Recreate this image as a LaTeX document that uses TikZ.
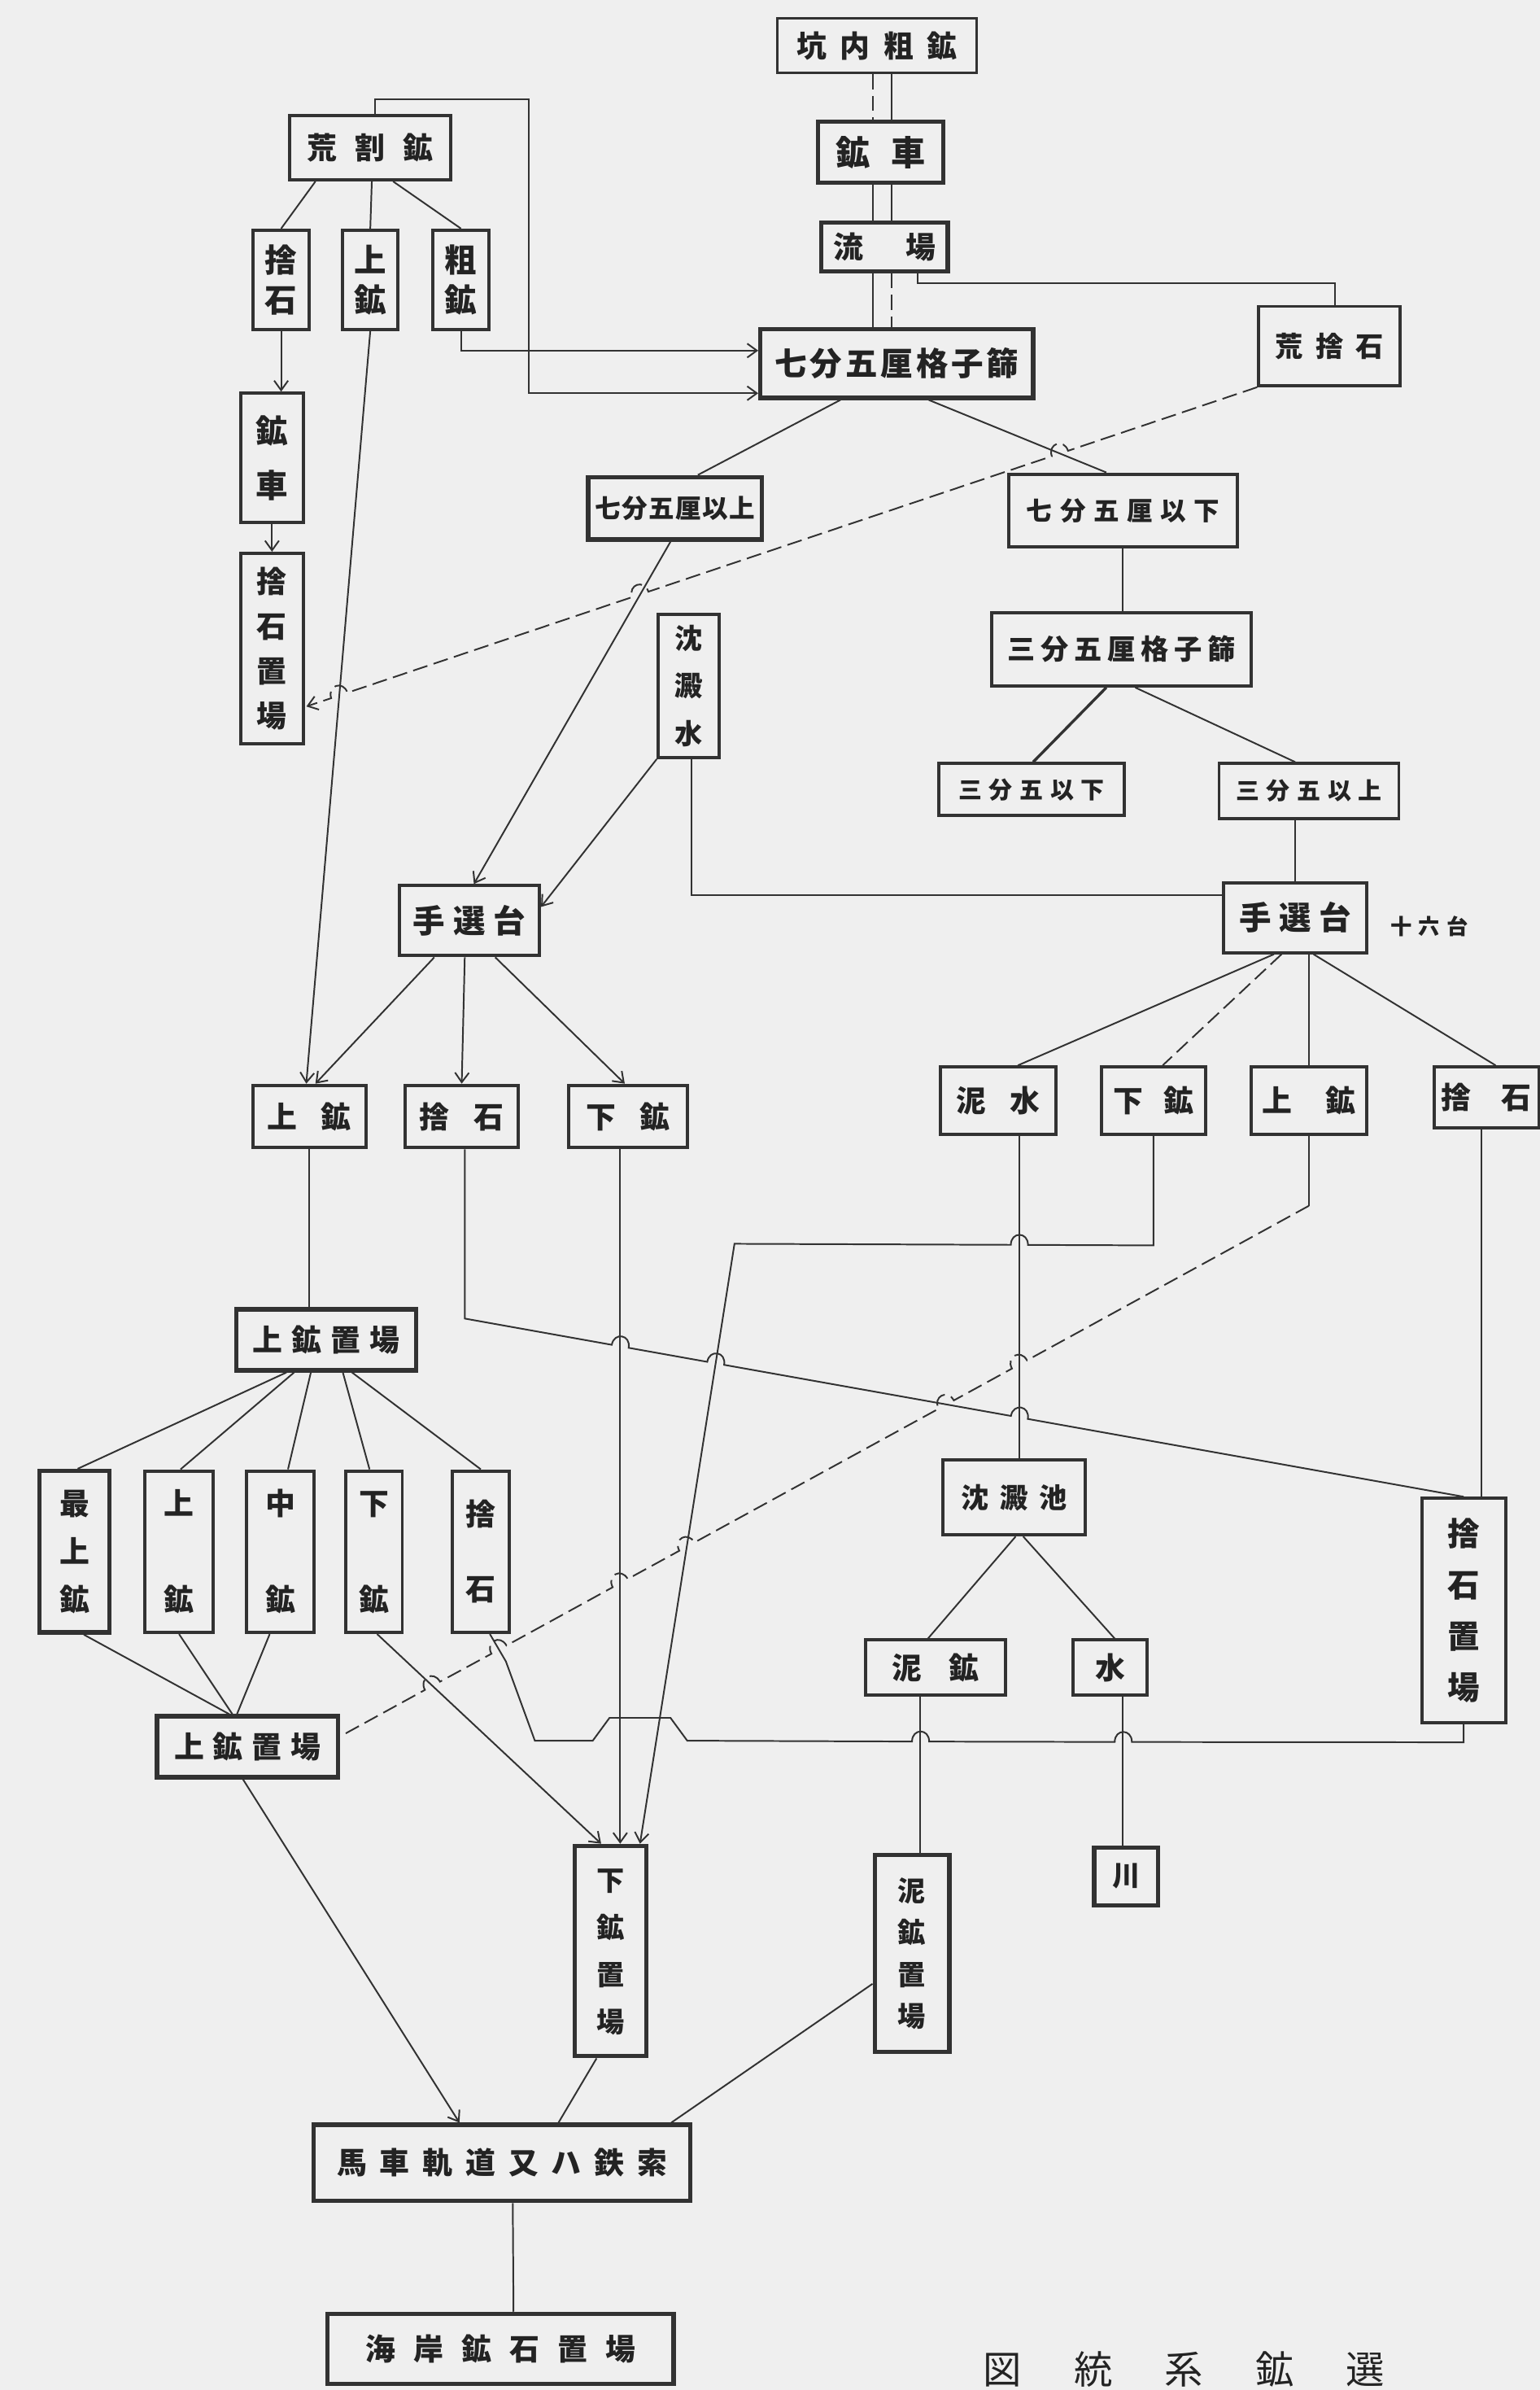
\documentclass[tikz,border=0pt]{standalone}
\usepackage{fontspec}
\setmainfont{Noto Sans CJK JP}
\usetikzlibrary{calc,arrows.meta}
\definecolor{bg}{RGB}{239,239,239}
\definecolor{lc}{RGB}{50,50,50}
\definecolor{tc}{RGB}{35,35,35}
\makeatletter
\newcommand\hsp[2]{{\def\hs@first{1}\@tfor\hs@c:=#2\do{\ifx\hs@first\@empty\hspace{#1}\fi\let\hs@first\@empty\hs@c}}}
\newcommand\vsp[2]{\vbox{\offinterlineskip\def\hs@first{1}\@tfor\hs@c:=#2\do{\ifx\hs@first\@empty\vskip#1\fi\let\hs@first\@empty\hbox to 1em{\hss\rule[-0.12em]{0pt}{1em}\hs@c\hss}}}}
\makeatother
\begin{document}
\begin{tikzpicture}[x=0.05cm,y=-0.05cm,
  box/.style={draw=lc,line width=3pt,inner sep=0pt,text=tc},
  tbox/.style={box,line width=4pt},
  wh/.style 2 args={minimum width=#1*0.05cm,minimum height=#2*0.05cm},
  f20/.style={font=\fontsize{20pt}{22pt}\selectfont\bfseries},
  f22/.style={font=\fontsize{22pt}{24pt}\selectfont\bfseries},
  f24/.style={font=\fontsize{24pt}{26pt}\selectfont\bfseries},
  f26/.style={font=\fontsize{26pt}{28pt}\selectfont\bfseries},
  f28/.style={font=\fontsize{28pt}{30pt}\selectfont\bfseries},
  f30/.style={font=\fontsize{30pt}{32pt}\selectfont\bfseries},
  f32/.style={font=\fontsize{32pt}{34pt}\selectfont\bfseries},
  f36/.style={font=\fontsize{36pt}{38pt}\selectfont},
  ln/.style={draw=lc,line width=1.5pt},
  dsh/.style={dash pattern=on 14pt off 6pt},
  arr/.style={-{Straight Barb[length=9pt,width=13pt]}},
  hopL/.style={bend left=90,looseness=2},
  hopR/.style={bend right=90,looseness=2}]
\fill[bg] (0,0) rectangle (1010.6,1568);
\useasboundingbox (0,0) rectangle (1010.6,1568);

% ---------------- nodes ----------------
\node[box,line width=2.4pt,wh={131}{36},f28] (kn) at (575.5,30) {\hsp{0.45em}{坑内粗鉱}};
\node[tbox,wh={82}{40},f32] (kc) at (578,100) {\hsp{0.6em}{鉱車}};
\node[tbox,wh={83}{32},f28] (ry) at (580.5,162) {\hsp{1.4em}{流場}};
\node[tbox,wh={179}{45},f30] (s7) at (588.5,238.5) {\hsp{0.1em}{七分五厘格子篩}};
\node[box,wh={93}{52},f26] (as) at (872.5,227) {\hsp{0.45em}{荒捨石}};
\node[box,wh={106}{42},f28] (ak) at (243,97) {\hsp{0.6em}{荒割鉱}};
\node[box,wh={37}{65},f30] (t1) at (184.5,183.5) {\vsp{0.25em}{捨石}};
\node[box,wh={36}{65},f30] (j1) at (243,183.5) {\vsp{0.25em}{上鉱}};
\node[box,wh={37}{65},f30] (so) at (302.5,183.5) {\vsp{0.25em}{粗鉱}};
\node[box,wh={41}{85},f30] (kc2) at (178.5,300.5) {\vsp{0.7em}{鉱車}};
\node[box,wh={41}{125},f28] (ts1) at (178.5,425.5) {\vsp{0.5em}{捨石置場}};
\node[tbox,wh={114}{41},f24] (u7) at (443,333.5) {\hsp{0.05em}{七分五厘以上}};
\node[box,wh={150}{48},f24] (d7) at (737,335) {\hsp{0.3em}{七分五厘以下}};
\node[box,wh={170}{48},f26] (s3) at (736,426) {\hsp{0.2em}{三分五厘格子篩}};
\node[box,wh={122}{34},f22] (l3) at (677,518) {\hsp{0.3em}{三分五以下}};
\node[box,wh={118}{36},f22] (u3) at (859,519) {\hsp{0.3em}{三分五以上}};
\node[box,wh={40}{94},f26] (cw) at (452,450) {\vsp{0.7em}{沈澱水}};
\node[box,wh={92}{46},f30] (hl) at (308,604) {\hsp{0.25em}{手選台}};
\node[box,wh={94}{46},f30] (hr) at (850,602) {\hsp{0.25em}{手選台}};
\node[f20,text=tc,inner sep=0pt] (lab) at (938,608) {\hsp{0.3em}{十六台}};
\node[box,wh={74}{41},f28] (jl) at (203,732.5) {\hsp{0.8em}{上鉱}};
\node[box,wh={74}{41},f28] (tl) at (303,732.5) {\hsp{0.8em}{捨石}};
\node[box,wh={78}{41},f28] (gl) at (412,732.5) {\hsp{0.8em}{下鉱}};
\node[box,wh={76}{44},f28] (ds) at (655,722) {\hsp{0.8em}{泥水}};
\node[box,wh={68}{44},f28] (gr) at (757,722) {\hsp{0.7em}{下鉱}};
\node[box,wh={76}{44},f28] (jr) at (859,722) {\hsp{1.1em}{上鉱}};
\node[box,wh={69}{40},f28] (tr) at (975.5,720) {\hsp{1em}{捨石}};
\node[tbox,wh={118}{40},f28] (jo1) at (214,879) {\hsp{0.3em}{上鉱置場}};
\node[tbox,wh={46}{106},f28] (sj) at (49,1018) {\vsp{0.6em}{最上鉱}};
\node[box,wh={45}{106},f28] (jv) at (117.5,1018) {\vsp{2.2em}{上鉱}};
\node[box,wh={44}{106},f28] (cv) at (184,1018) {\vsp{2.2em}{中鉱}};
\node[box,wh={37}{106},f28] (gv) at (245.5,1018) {\vsp{2.2em}{下鉱}};
\node[box,wh={37}{106},f28] (tv) at (315.5,1018) {\vsp{1.5em}{捨石}};
\node[tbox,wh={119}{40},f28] (jo2) at (162.5,1146) {\hsp{0.3em}{上鉱置場}};
\node[box,wh={93}{49},f26] (cp) at (665.5,982.5) {\hsp{0.4em}{沈澱池}};
\node[box,wh={92}{36},f28] (dk) at (614,1094) {\hsp{0.9em}{泥鉱}};
\node[box,wh={49}{36},f28] (mz) at (728.5,1094) {水};
\node[box,wh={55}{147},f30] (tsr) at (960.5,1056.5) {\vsp{0.6em}{捨石置場}};
\node[tbox,wh={42}{38},f26] (kw) at (739,1231) {川};
\node[tbox,wh={47}{138},f26] (gok) at (400.5,1280) {\vsp{0.7em}{下鉱置場}};
\node[tbox,wh={49}{129},f26] (dok) at (598.5,1281.5) {\vsp{0.5em}{泥鉱置場}};
\node[tbox,wh={247}{50},f28] (bs) at (329.5,1419) {\hsp{0.43em}{馬車軌道又ハ鉄索}};
\node[tbox,wh={227}{46},f28] (kg) at (328.5,1541) {\hsp{0.6em}{海岸鉱石置場}};
\node[f36,text=tc,inner sep=0pt,anchor=south] (ttl) at (777,1566) {\hsp{1.35em}{図統系鉱選}};

% ---------------- connectors ----------------
% main column (double lines)
\coordinate (xa) at (573,0);
\coordinate (xb) at (585,0);
\draw[ln,dsh] (kn.south -| xa) -- (kc.north -| xa);
\draw[ln] (kn.south -| xb) -- (kc.north -| xb);
\draw[ln] (kc.south -| xa) -- (ry.north -| xa);
\draw[ln] (kc.south -| xb) -- (ry.north -| xb);
\draw[ln] (ry.south -| xa) -- (s7.north -| xa);
\draw[ln,dsh] (ry.south -| xb) -- (s7.north -| xb);

% 流場 -> 荒捨石
\coordinate (p1) at (602,186);
\draw[ln] (ry.south -| p1) -- (p1) -| ($(as.north)+(3.5,0)$);

% 荒割鉱 loop -> 七分五厘格子篩
\coordinate (p2) at (246,65);
\coordinate (p3) at (347,258);
\draw[ln,arr] (ak.north -| p2) -- (p2) -| (p3) -- (p3 -| s7.west);
% 粗鉱 -> 七分五厘格子篩
\coordinate (p4) at (0,230);
\draw[ln,arr] (so.south) |- (p4 -| s7.west);

% 荒割鉱 -> three
\draw[ln] ($(ak.south)+(-36,0)$) -- (t1.north);
\draw[ln] ($(ak.south)+(1,0)$) -- (j1.north);
\draw[ln] ($(ak.south)+(15,0)$) -- (so.north);
\draw[ln,arr] (t1.south) -- (t1.south |- kc2.north);
\draw[ln,arr] (kc2.south) -- (kc2.south |- ts1.north);
\coordinate (j1s) at (j1.south);
\coordinate (jlt) at ($(jl.north)+(-2,0)$);
\draw[ln,arr] (j1s) -- (jlt);

% 七分五厘格子篩 -> 以上 / 以下
\coordinate (s7a) at ($(s7.south)+(-37,0)$);
\coordinate (u7a) at ($(u7.north)+(15,0)$);
\draw[ln] (s7a) -- (u7a);
\coordinate (s7b) at ($(s7.south)+(21,0)$);
\coordinate (d7a) at ($(d7.north)+(-11,0)$);
\draw[ln] (s7b) -- (d7a);
\draw[ln] (d7.south) -- (d7.south |- s3.north);
\draw[ln,line width=2.6pt] ($(s3.south)+(-10,0)$) -- ($(l3.north)+(1,0)$);
\draw[ln] ($(s3.south)+(9,0)$) -- ($(u3.north)+(-9,0)$);
\draw[ln] (hr.north |- u3.south) -- (hr.north);

% 七分五厘以上 -> 手選台
\coordinate (u7b) at ($(u7.south)+(-3,0)$);
\coordinate (hla) at ($(hl.north)+(3,0)$);
\draw[ln,arr] (u7b) -- (hla);
% 沈澱水 -> 手選台 (both)
\draw[ln,arr] (cw.south west) -- ($(hl.east)+(0,-9)$);
\coordinate (p5) at (454,587);
\draw[ln] (cw.south -| p5) -- (p5) -- (p5 -| hr.west);

% 荒捨石 -> 捨石置場 (dashed, with hops)
\coordinate (a1) at (as.south west);
\coordinate (a2) at ($(ts1.east)+(1,38)$);
\coordinate (h1) at (intersection of a1--a2 and s7b--d7a);
\coordinate (h2) at (intersection of a1--a2 and u7b--hla);
\coordinate (h3) at (intersection of a1--a2 and j1s--jlt);
\draw[ln,dsh,arr] (a1) -- ($(h1)!8pt!(a1)$) to[hopR] ($(h1)!8pt!(a2)$)
  -- ($(h2)!8pt!(a1)$) to[hopR] ($(h2)!8pt!(a2)$)
  -- ($(h3)!8pt!(a1)$) to[hopR] ($(h3)!8pt!(a2)$) -- (a2);

% 手選台 (left) -> three
\draw[ln,arr] ($(hl.south)+(-23,0)$) -- ($(jl.north)+(4,0)$);
\draw[ln,arr] ($(hl.south)+(-3,0)$) -- (tl.north);
\draw[ln,arr] ($(hl.south)+(17,0)$) -- ($(gl.north)+(-2,0)$);

% 手選台 (right) -> four
\draw[ln] ($(hr.south)+(-14,0)$) -- ($(ds.north)+(13,0)$);
\draw[ln,dsh] ($(hr.south)+(-9,0)$) -- ($(gr.north)+(6,0)$);
\draw[ln] (jr.north |- hr.south) -- (jr.north);
\draw[ln] ($(hr.south)+(12,0)$) -- ($(tr.north)+(6,0)$);

% 上鉱 -> 上鉱置場 -> five
\draw[ln] (jl.south) -- (jl.south |- jo1.north);
\draw[ln] ($(jo1.south)+(-26,0)$) -- ($(sj.north)+(2,0)$);
\draw[ln] ($(jo1.south)+(-21,0)$) -- ($(jv.north)+(1,0)$);
\draw[ln] ($(jo1.south)+(-10,0)$) -- ($(cv.north)+(5,0)$);
\draw[ln] ($(jo1.south)+(11,0)$) -- ($(gv.north)+(-3,0)$);
\draw[ln] ($(jo1.south)+(17,0)$) -- (tv.north);
% five -> 上鉱置場 (2)
\draw[ln] ($(sj.south)+(6,0)$) -- ($(jo2.north)+(-12,0)$);
\draw[ln] (jv.south) -- ($(jo2.north)+(-10,0)$);
\draw[ln] ($(cv.south)+(-7,0)$) -- ($(jo2.north)+(-7,0)$);

% 捨石 (right) -> 捨石置場
\coordinate (xt) at (972,0);
\draw[ln] (tr.south -| xt) -- (tsr.north -| xt);

% 泥水 -> 沈澱池
\coordinate (xm) at (669,0);
\coordinate (dsb) at (ds.south -| xm);
\coordinate (cpt) at (cp.north -| xm);
\draw[ln] (dsb) -- (cpt);

% 下鉱 (right) -> 下鉱置場
\coordinate (g1) at ($(gr.south)+(0,72)$);
\coordinate (g2) at (482,816);
\coordinate (g3) at ($(gok.north)+(19.5,0)$);
\coordinate (h4) at (intersection of g1--g2 and dsb--cpt);
\draw[ln,arr] (gr.south) -- (g1) -- ($(h4)!8pt!(g1)$) to[hopR] ($(h4)!8pt!(g2)$) -- (g2) -- (g3);

% 下鉱 (left) -> 下鉱置場
\coordinate (xg) at (407,0);
\coordinate (glb) at (gl.south -| xg);
\coordinate (gokt) at (gok.north -| xg);
\draw[ln,arr] (glb) -- (gokt);

% 下鉱 (v) -> 下鉱置場
\coordinate (gvb) at ($(gv.south)+(2,0)$);
\coordinate (gokl) at ($(gok.north)+(-6,0)$);
\draw[ln,arr] (gvb) -- (gokl);

% 捨石 (left) -> 捨石置場 (right)
\coordinate (l1) at ($(tl.south)+(2,111)$);
\coordinate (tsrt) at (tsr.north);
\coordinate (h5) at (intersection of l1--tsrt and glb--gokt);
\coordinate (h6) at (intersection of l1--tsrt and g2--g3);
\coordinate (h7) at (intersection of l1--tsrt and dsb--cpt);
\draw[ln] ($(tl.south)+(2,0)$) -- (l1) -- ($(h5)!8pt!(l1)$) to[hopL] ($(h5)!8pt!(tsrt)$)
  -- ($(h6)!8pt!(l1)$) to[hopL] ($(h6)!8pt!(tsrt)$)
  -- ($(h7)!8pt!(l1)$) to[hopL] ($(h7)!8pt!(tsrt)$) -- (tsrt);

% 捨石 (v) -> 捨石置場 (right), along the bottom
\coordinate (tvb) at ($(tv.south)+(6,0)$);
\coordinate (tv1) at (332,1090);
\coordinate (tv2) at (351,1142);
\coordinate (tv3) at (389,1142);
\coordinate (tv4) at (400,1127);
\coordinate (tv5) at (440,1127);
\coordinate (tv6) at (451,1142);
\coordinate (tv7) at ($(tsr.south)+(0,12)$);
\coordinate (xd) at (604,0);
\coordinate (dkb) at (dk.south -| xd);
\coordinate (dokt) at (dok.north -| xd);
\coordinate (xw) at (737,0);
\coordinate (mzb) at (mz.south -| xw);
\coordinate (kwt) at (kw.north -| xw);
\coordinate (h14) at (intersection of tv6--tv7 and dkb--dokt);
\coordinate (h15) at (intersection of tv6--tv7 and mzb--kwt);
\draw[ln] (tvb) -- (tv1) -- (tv2) -- (tv3) -- (tv4) -- (tv5) -- (tv6)
  -- ($(h14)!8pt!(tv6)$) to[hopL] ($(h14)!8pt!(tv7)$)
  -- ($(h15)!8pt!(tv6)$) to[hopL] ($(h15)!8pt!(tv7)$) -- (tv7) -- (tsr.south);

% 上鉱 (right) -> 上鉱置場 (2), dashed with hops
\coordinate (k1) at ($(jr.south)+(0,46)$);
\coordinate (k2) at ($(jo2.east)+(2,-8)$);
\coordinate (h8) at (intersection of k1--k2 and dsb--cpt);
\coordinate (h9) at (intersection of k1--k2 and l1--tsrt);
\coordinate (h10) at (intersection of k1--k2 and g2--g3);
\coordinate (h11) at (intersection of k1--k2 and glb--gokt);
\coordinate (h12) at (intersection of k1--k2 and tvb--tv1);
\coordinate (h13) at (intersection of k1--k2 and gvb--gokl);
\draw[ln] (jr.south) -- (k1);
\draw[ln,dsh] (k1) -- ($(h8)!8pt!(k1)$) to[hopR] ($(h8)!8pt!(k2)$)
  -- ($(h9)!8pt!(k1)$) to[hopR] ($(h9)!8pt!(k2)$)
  -- ($(h10)!8pt!(k1)$) to[hopR] ($(h10)!8pt!(k2)$)
  -- ($(h11)!8pt!(k1)$) to[hopR] ($(h11)!8pt!(k2)$)
  -- ($(h12)!8pt!(k1)$) to[hopR] ($(h12)!8pt!(k2)$)
  -- ($(h13)!8pt!(k1)$) to[hopR] ($(h13)!8pt!(k2)$) -- (k2);

% 沈澱池 -> 泥鉱, 水 ; 泥鉱置場 -> 泥鉱 ; 川 -- 水
\draw[ln] ($(cp.south)+(1,0)$) -- ($(dk.north)+(-5,0)$);
\draw[ln] ($(cp.south)+(6,0)$) -- ($(mz.north)+(3,0)$);
\draw[ln] (dokt) -- (dkb);
\draw[ln] (kwt) -- (mzb);

% to 馬車軌道又ハ鉄索
\draw[ln,arr] ($(jo2.south)+(-3,0)$) -- ($(bs.north)+(-28,0)$);
\draw[ln] ($(gok.south)+(-9,0)$) -- ($(bs.north)+(37,0)$);
\draw[ln] ($(dok.west)+(0,20)$) -- ($(bs.north)+(111,0)$);
\draw[ln] ($(bs.south)+(7,0)$) -- ($(kg.north)+(8.5,0)$);
\end{tikzpicture}
\end{document}
